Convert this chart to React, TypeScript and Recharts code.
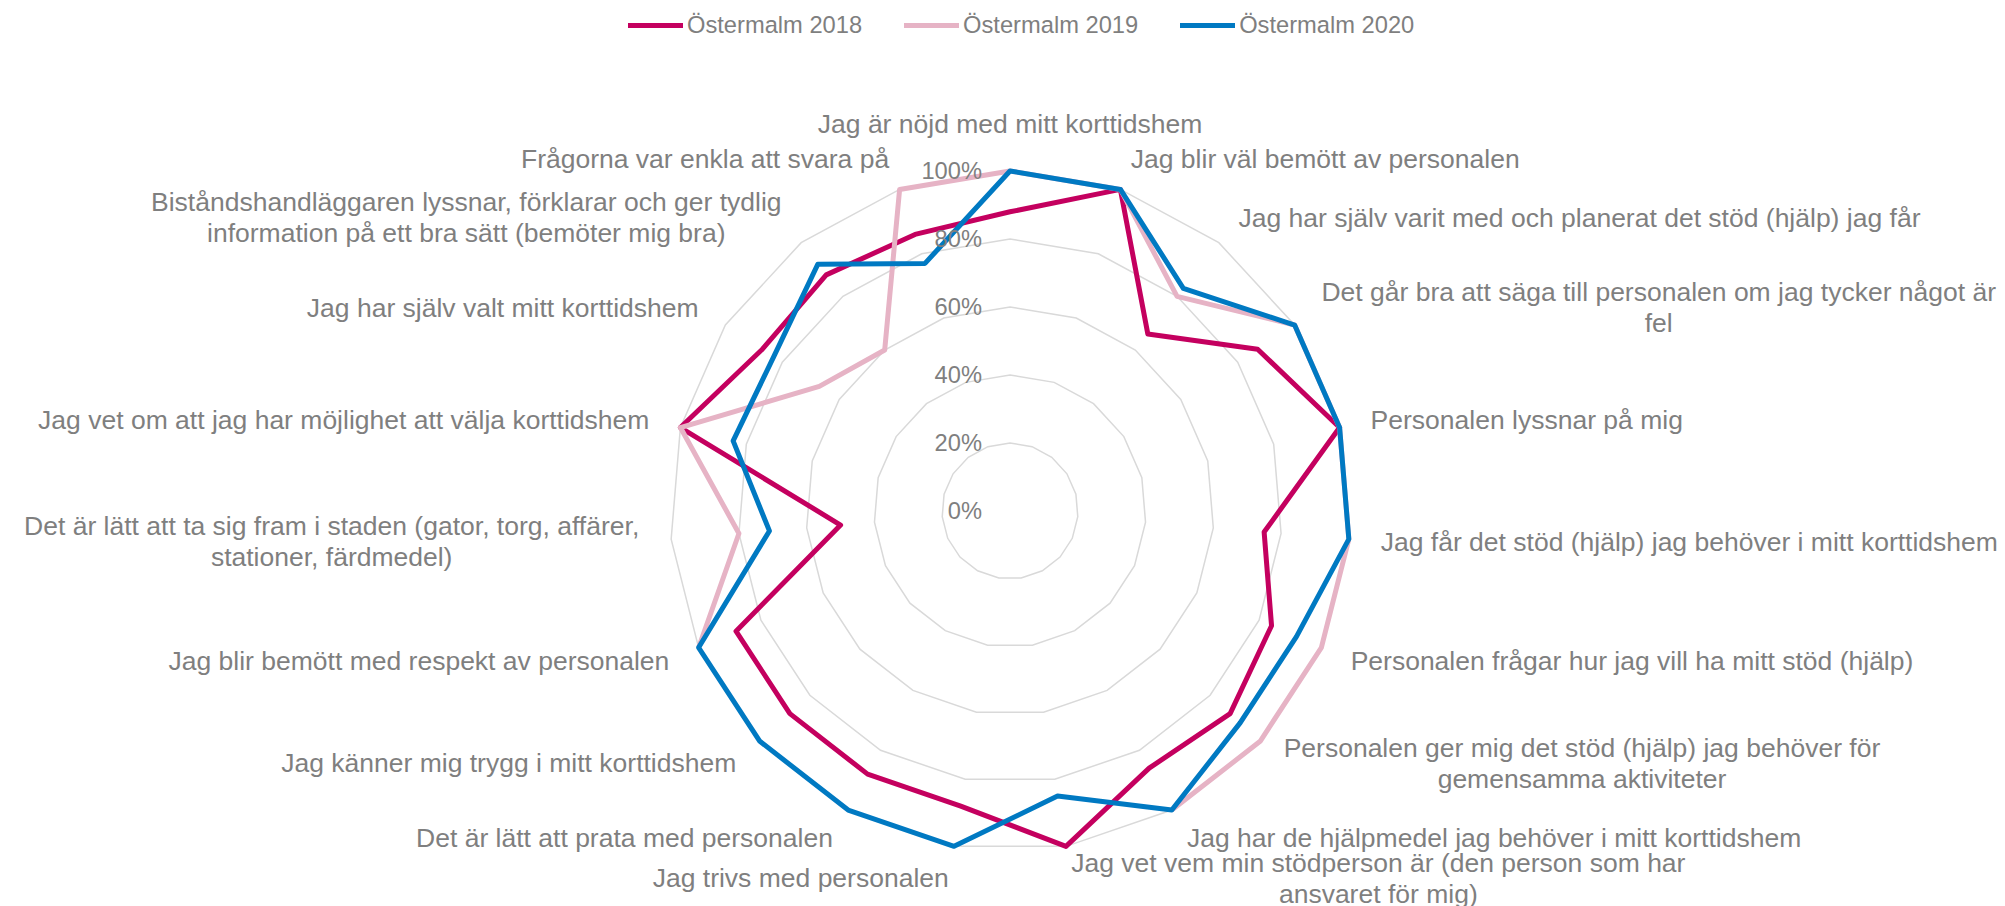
import React from 'react';
import { RadarChart, Radar, PolarGrid, PolarAngleAxis, PolarRadiusAxis } from 'recharts';

// Questions, clockwise from the top. "\n" marks where the label wraps.
const CATEGORIES = [
  'Jag är nöjd med mitt korttidshem',
  'Jag blir väl bemött av personalen',
  'Jag har själv varit med och planerat det stöd (hjälp) jag får',
  'Det går bra att säga till personalen om jag tycker något är\nfel',
  'Personalen lyssnar på mig',
  'Jag får det stöd (hjälp) jag behöver i mitt korttidshem',
  'Personalen frågar hur jag vill ha mitt stöd (hjälp)',
  'Personalen ger mig det stöd (hjälp) jag behöver för\ngemensamma aktiviteter',
  'Jag har de hjälpmedel jag behöver i mitt korttidshem',
  'Jag vet vem min stödperson är (den person som har\nansvaret för mig)',
  'Jag trivs med personalen',
  'Det är lätt att prata med personalen',
  'Jag känner mig trygg i mitt korttidshem',
  'Jag blir bemött med respekt av personalen',
  'Det är lätt att ta sig fram i staden (gator, torg, affärer,\nstationer, färdmedel)',
  'Jag vet om att jag har möjlighet att välja korttidshem',
  'Jag har själv valt mitt korttidshem',
  'Biståndshandläggaren lyssnar, förklarar och ger tydlig\ninformation på ett bra sätt (bemöter mig bra)',
  'Frågorna var enkla att svara på',
];

const OSTERMALM_2018 = [88, 100, 66, 87, 100, 75, 84, 88, 86, 100, 88, 88, 88, 88, 50, 100, 87, 88, 86];
const OSTERMALM_2019 = [100, 100, 80, 100, 100, 100, 100, 100, 100, null, null, null, null, 100, 80, 100, 67, 60, 100];
const OSTERMALM_2020 = [100, 100, 83, 100, 100, 100, 92, 92, 100, 85, 100, 100, 100, 100, 71, 84, 83, 92, 77];

const PERCENT_TICKS = [0, 20, 40, 60, 80, 100];

const SERIES = [
  { key: 'y2018', name: 'Östermalm 2018', color: '#C4005F' },
  { key: 'y2019', name: 'Östermalm 2019', color: '#E6B3C5' },
  { key: 'y2020', name: 'Östermalm 2020', color: '#0079C2' },
];

const chartData = CATEGORIES.map((name, i) => ({
  name,
  y2018: OSTERMALM_2018[i],
  y2019: OSTERMALM_2019[i],
  y2020: OSTERMALM_2020[i],
}));

const W = 2005;
const H = 906;
const CX = 1010;
const CY = 511;
const R = 340;
const FONT = '"Liberation Sans", Arial, sans-serif';
const GREY = '#7F7F7F';
const LABEL_SIZE = 26.5;
const LABEL_GAP = 32;
const LINE_H = 31;
const TICK_SIZE = 23.7;
const LINE_W = 5;

let measureCtx: CanvasRenderingContext2D | null = null;
const textWidth = (s: string, size: number) => {
  if (!measureCtx) measureCtx = document.createElement('canvas').getContext('2d');
  if (!measureCtx) return s.length * size * 0.5;
  measureCtx.font = `${size}px "Liberation Sans"`;
  return measureCtx.measureText(s).width;
};

// category labels sit outside the 100% ring, like Excel places them
const CategoryTick = (props: any) => {
  const { x, y, payload } = props;
  const dx = x - CX;
  const dy = y - CY;
  const len = Math.hypot(dx, dy) || 1;
  const c = dx / len;
  const s = dy / len;
  const ax = CX + c * (R + LABEL_GAP);
  const ay = CY + s * (R + LABEL_GAP);
  const lines = String(payload.value).split('\n');
  const w = Math.max(...lines.map((l) => textWidth(l, LABEL_SIZE)));
  const centered = Math.abs(c) < 0.05;
  const mid = centered ? ax : c > 0 ? ax + w / 2 : ax - w / 2;
  const blockH = lines.length * LINE_H;
  const midY = centered ? ay + (s * blockH) / 2 : ay;
  const top = midY - blockH / 2;
  return (
    <text fontFamily={FONT} fontSize={LABEL_SIZE} fill={GREY} textAnchor="middle">
      {lines.map((l, i) => (
        <tspan key={i} x={mid} y={top + LINE_H * i + LINE_H / 2 + LABEL_SIZE * 0.35}>
          {l}
        </tspan>
      ))}
    </text>
  );
};

const PercentTick = (props: any) => {
  const { x, y, payload } = props;
  return (
    <text x={x - 28} y={y + TICK_SIZE * 0.35} textAnchor="end" fontFamily={FONT} fontSize={TICK_SIZE} fill={GREY}>
      {`${payload.value}%`}
    </text>
  );
};

// draws the series as lines, leaving gaps for missing answers but wrapping past the last spoke
const linePath = (points: any[]) => {
  const ok = (p: any) => p.value != null && Number.isFinite(p.x) && Number.isFinite(p.y);
  const n = points.length;
  const gap = points.findIndex((p) => !ok(p));
  if (gap < 0) return points.map((p, i) => `${i ? 'L' : 'M'}${p.x},${p.y}`).join('') + 'Z';
  let d = '';
  let pen = false;
  for (let k = 1; k <= n; k++) {
    const p = points[(gap + k) % n];
    if (!ok(p)) {
      pen = false;
      continue;
    }
    d += `${pen ? 'L' : 'M'}${p.x},${p.y}`;
    pen = true;
  }
  return d;
};

const lineShape = (color: string) => (props: any) =>
  (
    <path d={linePath(props.points || [])} fill="none" stroke={color} strokeWidth={LINE_W} strokeLinejoin="round" />
  );

const App: React.FC = () => {
  return (
    <div style={{ position: 'absolute', left: 0, top: 0, width: W, height: H, background: '#fff' }}>
      {/* legend */}
      <div
        style={{
          position: 'absolute',
          left: 628,
          top: 10,
          display: 'flex',
          gap: 42,
          fontFamily: FONT,
          fontSize: TICK_SIZE,
          color: GREY,
        }}
      >
        {SERIES.map((s) => (
          <div key={s.key} style={{ display: 'flex', alignItems: 'center', height: 30 }}>
            <span style={{ display: 'inline-block', width: 55, height: 5, background: s.color, marginRight: 4 }} />
            <span>{s.name}</span>
          </div>
        ))}
      </div>

      <RadarChart
        width={W}
        height={H}
        data={chartData}
        cx={CX}
        cy={CY}
        outerRadius={R}
        margin={{ top: 0, right: 0, bottom: 0, left: 0 }}
      >
        <PolarGrid gridType="polygon" radialLines={false} stroke="#D9D9D9" strokeWidth={1.5} />
        <PolarAngleAxis dataKey="name" axisLine={false} tickLine={false} tick={<CategoryTick />} />
        <PolarRadiusAxis
          angle={90}
          domain={[0, 100]}
          ticks={PERCENT_TICKS}
          tickCount={6}
          axisLine={false}
          tickLine={false}
          tick={<PercentTick />}
        />
        {SERIES.map((s) => (
          <Radar
            key={s.key}
            name={s.name}
            dataKey={s.key}
            stroke={s.color}
            strokeWidth={LINE_W}
            fill="none"
            fillOpacity={0}
            dot={false}
            shape={lineShape(s.color)}
            isAnimationActive={false}
          />
        ))}
      </RadarChart>
    </div>
  );
};

export default App;
